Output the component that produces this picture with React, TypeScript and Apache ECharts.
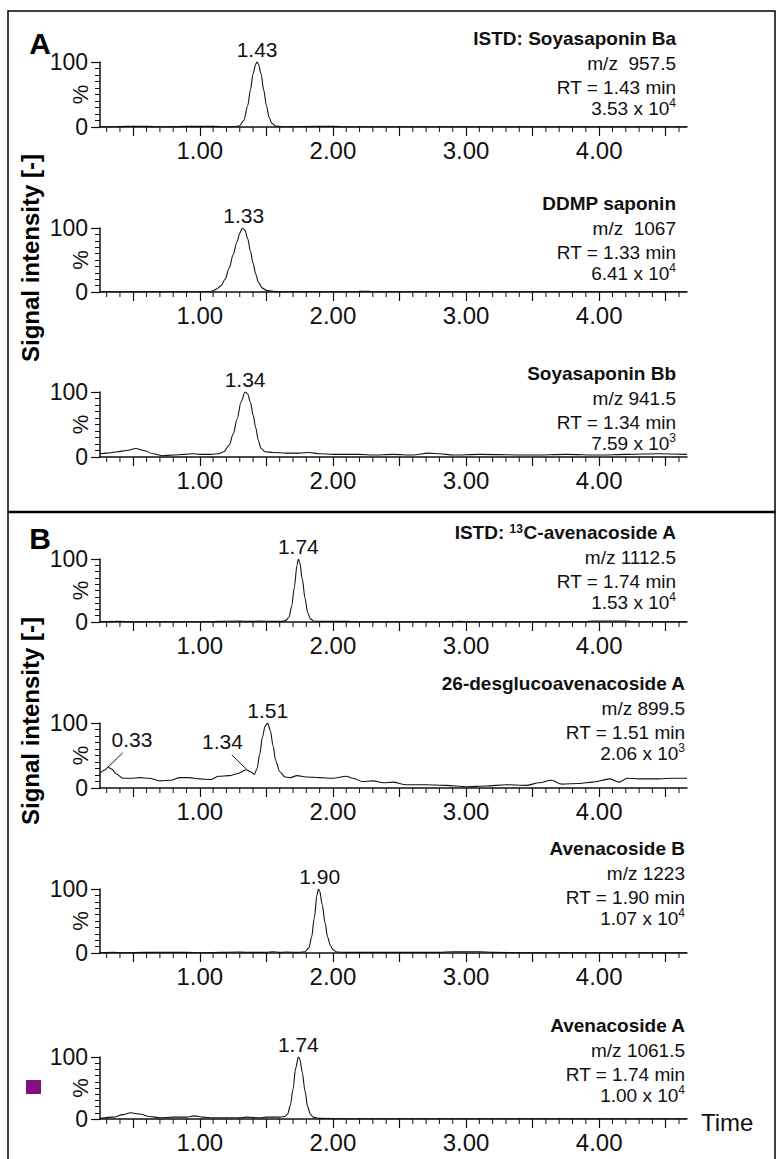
import React, { useEffect, useRef } from "react";
import * as echarts from "echarts";

const FONT = '"Liberation Sans", Arial, Helvetica, sans-serif';

// ---------- data ----------
const xMin = 0.25;
const xMax = 4.66;
const xLabelValues = [1, 2, 3, 4];
const majorTickValues = [0.5, 1, 1.5, 2, 2.5, 3, 3.5, 4, 4.5];
const minorTickValues: number[] = [];
for (let k = 3; k <= 46; k++) if (k % 5 !== 0) minorTickValues.push(k / 10);

// Soyasaponin Ba (ISTD)
const traceA1 = [
  [0.25, 0.3], [0.35, 0.3], [0.45, 1], [0.6, 1], [0.7, 0.3], [0.9, 1], [1.1, 1], [1.2, 0.3],
  [1.26, 0.5], [1.3, 2], [1.33, 10], [1.36, 33], [1.38, 57], [1.4, 82], [1.42, 97], [1.43, 100],
  [1.44, 97], [1.46, 82], [1.48, 57], [1.5, 33], [1.52, 15], [1.54, 6], [1.57, 1.5], [1.62, 0.5],
  [1.9, 1], [2.0, 1], [2.1, 0.3], [2.5, 0.3], [3.0, 0.3], [3.5, 0.3], [4.0, 0.3], [4.66, 0.3],
];
// DDMP saponin
const traceA2 = [
  [0.25, 0.3], [1.0, 0.3], [1.07, 0.6], [1.1, 2], [1.13, 5], [1.16, 10], [1.19, 20], [1.22, 37],
  [1.25, 58], [1.28, 79], [1.3, 92], [1.32, 100], [1.34, 96], [1.36, 83], [1.38, 64], [1.4, 45],
  [1.42, 28], [1.44, 15], [1.47, 6], [1.5, 2.5], [1.55, 1], [1.6, 0.3], [2.18, 0.3], [2.2, 1],
  [2.27, 1], [2.3, 0.3], [4.66, 0.3],
];
// Soyasaponin Bb
const traceA3 = [
  [0.25, 5], [0.3, 6], [0.38, 8], [0.45, 10], [0.52, 13], [0.58, 10], [0.65, 5], [0.72, 2],
  [0.8, 3], [0.88, 4], [0.95, 5], [1.0, 4], [1.08, 4], [1.14, 5], [1.18, 8], [1.22, 18],
  [1.25, 35], [1.28, 58], [1.31, 85], [1.34, 100], [1.36, 97], [1.38, 84], [1.4, 65], [1.42, 45],
  [1.44, 25], [1.46, 13], [1.49, 8], [1.55, 7], [1.65, 6], [1.75, 6], [1.82, 7], [1.9, 5],
  [2.0, 4], [2.2, 4], [2.3, 3], [2.45, 4], [2.6, 3], [2.72, 6], [2.8, 5], [2.9, 3], [3.1, 4],
  [3.5, 3], [3.75, 4], [4.0, 3], [4.2, 4], [4.45, 5], [4.66, 4],
];
// 13C-avenacoside A (ISTD)
const traceB1 = [
  [0.25, 0.5], [0.4, 1], [0.5, 0.5], [1.0, 0.5], [1.3, 1.5], [1.38, 1], [1.45, 1.5], [1.55, 1],
  [1.62, 1], [1.65, 3], [1.67, 8], [1.69, 25], [1.71, 55], [1.73, 90], [1.74, 100], [1.75, 95],
  [1.77, 68], [1.79, 38], [1.81, 15], [1.83, 5], [1.86, 1], [1.9, 1], [2.1, 1], [2.2, 0.5],
  [2.9, 0.5], [2.95, 1], [3.0, 0.5], [3.9, 0.5], [3.95, 1.5], [4.2, 1.5], [4.25, 0.5], [4.66, 0.5],
];
// 26-desglucoavenacoside A
const traceB2 = [
  [0.25, 23], [0.29, 28], [0.31, 32], [0.34, 29], [0.37, 22], [0.42, 15], [0.48, 15], [0.55, 16],
  [0.62, 15], [0.7, 11], [0.78, 12], [0.85, 16], [0.92, 16], [1.0, 14], [1.08, 13], [1.14, 18],
  [1.22, 19], [1.28, 22], [1.35, 28], [1.38, 25], [1.41, 21], [1.43, 30], [1.45, 52], [1.47, 78],
  [1.49, 95], [1.51, 100], [1.53, 88], [1.55, 65], [1.57, 42], [1.6, 25], [1.64, 17], [1.68, 16],
  [1.73, 19], [1.8, 17], [1.9, 16], [2.0, 15], [2.1, 18], [2.15, 15], [2.22, 10], [2.3, 11],
  [2.38, 8], [2.45, 9], [2.55, 5], [2.7, 5], [2.85, 4], [3.0, 2], [3.15, 3], [3.3, 5], [3.45, 4],
  [3.55, 8], [3.64, 12], [3.72, 6], [3.85, 7], [3.95, 9], [4.08, 14], [4.15, 9], [4.21, 15],
  [4.3, 14], [4.45, 14], [4.55, 15], [4.66, 15],
];
// Avenacoside B
const traceB3 = [
  [0.25, 0.5], [0.35, 1], [0.42, 0.5], [0.6, 1], [0.9, 1], [1.0, 0.5], [1.3, 1.5], [1.4, 1],
  [1.5, 1], [1.55, 2], [1.6, 1], [1.65, 1.5], [1.75, 1], [1.79, 2], [1.82, 8], [1.84, 25],
  [1.86, 55], [1.88, 90], [1.89, 100], [1.9, 97], [1.92, 75], [1.94, 48], [1.96, 25], [1.98, 12],
  [2.0, 5], [2.03, 1.5], [2.1, 1], [2.5, 1], [2.8, 1], [2.9, 2], [3.1, 2], [3.2, 1], [3.5, 0.5],
  [4.66, 0.5],
];
// Avenacoside A
const traceB4 = [
  [0.25, 1], [0.35, 3], [0.42, 7], [0.48, 10], [0.55, 8], [0.62, 4], [0.7, 2], [0.8, 3], [0.9, 3],
  [0.96, 5], [1.02, 3], [1.1, 2], [1.3, 2], [1.35, 3], [1.45, 2], [1.5, 3], [1.6, 3], [1.64, 4],
  [1.66, 8], [1.68, 22], [1.7, 48], [1.72, 82], [1.74, 100], [1.75, 97], [1.77, 75], [1.79, 45],
  [1.81, 20], [1.83, 8], [1.85, 3], [1.9, 1], [2.1, 0.5], [4.66, 0.5],
];

const traces = [traceA1, traceA2, traceA3, traceB1, traceB2, traceB3, traceB4];
const peakTimes = [1.43, 1.33, 1.34, 1.74, 1.51, 1.9, 1.74];
const titles = [
  "ISTD: Soyasaponin Ba",
  "DDMP saponin",
  "Soyasaponin Bb",
  "ISTD: {sb|13}C-avenacoside A",
  "26-desglucoavenacoside A",
  "Avenacoside B",
  "Avenacoside A",
];
const mzLabels = ["m/z  957.5", "m/z  1067", "m/z 941.5", "m/z 1112.5", "m/z 899.5", "m/z 1223", "m/z 1061.5"];
const rtLabels = ["RT = 1.43 min", "RT = 1.33 min", "RT = 1.34 min", "RT = 1.74 min", "RT = 1.51 min", "RT = 1.90 min", "RT = 1.74 min"];
const intensityMantissa = ["3.53", "6.41", "7.59", "1.53", "2.06", "1.07", "1.00"];
const intensityExponent = ["4", "4", "3", "4", "3", "4", "4"];
// extra annotated minor peaks in 26-desglucoavenacoside A trace
const minorPeakLabels = ["0.33", "1.34"];
const minorPeakLabelPos = [[0.49, 74], [1.17, 71]];
const minorPeakLeader = [
  [[0.31, 32], [0.42, 54]],
  [[1.35, 29], [1.24, 51]],
];

// ---------- layout ----------
const gridLeft = 100;
const gridWidth = 587;
const gridTops = [62, 228, 392, 559, 723, 889, 1057];
const gridBottoms = [127, 292, 457, 622, 788, 953, 1119];
const textRight = [676, 676, 676, 676, 685, 685, 685];
const textTop = [38, 203, 373, 532, 683, 848, 1025];
const lineOffsets = [0, 25, 49, 70];

const BLACK = "#111";

function buildOption() {
  const n = traces.length;
  const grid: any[] = [];
  const xAxis: any[] = [];
  const yAxis: any[] = [];
  const series: any[] = [];
  const graphic: any[] = [];

  for (let i = 0; i < n; i++) {
    grid.push({
      left: gridLeft,
      width: gridWidth,
      top: gridTops[i],
      height: gridBottoms[i] - gridTops[i],
      containLabel: false,
      outerBoundsMode: "none",
    });
    xAxis.push({
      type: "value",
      gridIndex: i,
      min: xMin,
      max: xMax,
      axisLine: { show: true, onZero: false, lineStyle: { color: BLACK, width: 1.5 } },
      axisTick: { show: true, customValues: majorTickValues, length: 9, lineStyle: { color: BLACK, width: 1.2 } },
      axisLabel: {
        show: true,
        customValues: xLabelValues,
        formatter: (v: number) => v.toFixed(2),
        fontSize: 24,
        fontFamily: FONT,
        color: BLACK,
        margin: 11,
      },
      splitLine: { show: false },
    });
    yAxis.push({
      type: "value",
      gridIndex: i,
      min: 0,
      max: 100,
      interval: 100,
      axisLine: { show: true, lineStyle: { color: BLACK, width: 1.5 } },
      axisTick: { show: true, length: 9, lineStyle: { color: BLACK, width: 1.2 } },
      minorTick: { show: true, splitNumber: 10, length: 5, lineStyle: { color: BLACK, width: 1 } },
      axisLabel: { fontSize: 23, fontFamily: FONT, color: BLACK, margin: 12 },
      splitLine: { show: false },
    });

    const markPointData: any[] = [
      {
        coord: [peakTimes[i], 100],
        label: {
          show: true,
          position: "top",
          distance: 2,
          formatter: peakTimes[i].toFixed(2),
          fontSize: 21,
          fontFamily: FONT,
          color: BLACK,
        },
      },
    ];
    let markLine: any = undefined;
    if (i === 4) {
      minorPeakLabels.forEach((lab, k) => {
        markPointData.push({
          coord: minorPeakLabelPos[k],
          label: { show: true, position: "inside", formatter: lab, fontSize: 21, fontFamily: FONT, color: BLACK },
        });
      });
      markLine = {
        silent: true,
        symbol: ["none", "none"],
        lineStyle: { color: BLACK, width: 1, type: "solid" },
        label: { show: false },
        data: minorPeakLeader.map((seg) => [{ coord: seg[0] }, { coord: seg[1] }]),
      };
    }

    series.push({
      type: "line",
      xAxisIndex: i,
      yAxisIndex: i,
      data: traces[i],
      showSymbol: false,
      symbol: "none",
      smooth: 0.3,
      smoothMonotone: "x",
      lineStyle: { color: BLACK, width: 1.1 },
      silent: true,
      markPoint: { symbol: "circle", symbolSize: 0, silent: true, data: markPointData },
      markLine,
    });

    // minor x ticks, placed through the axis scale
    series.push({
      type: "custom",
      xAxisIndex: i,
      yAxisIndex: i,
      silent: true,
      clip: false,
      data: minorTickValues.map((t) => [t, 0]),
      renderItem: (params: any, api: any) => {
        const p = api.coord([api.value(0), api.value(1)]);
        return {
          type: "line",
          shape: { x1: p[0], y1: p[1], x2: p[0], y2: p[1] + 5 },
          style: { stroke: BLACK, lineWidth: 1 },
        };
      },
    });

    // y-axis "%" name
    graphic.push({
      type: "text",
      x: 80,
      y: (gridTops[i] + gridBottoms[i]) / 2,
      rotation: Math.PI / 2,
      style: { text: "%", fontSize: 22, fontFamily: FONT, fill: BLACK, align: "center", verticalAlign: "middle" },
      silent: true,
    });

    // annotation texts
    const base = { fontSize: 19, fontFamily: FONT, fill: BLACK, align: "right", verticalAlign: "middle" };
    graphic.push({
      type: "text",
      x: textRight[i],
      y: textTop[i] + lineOffsets[0],
      style: {
        ...base,
        text: titles[i],
        fontWeight: "bold",
        fontSize: 19,
        rich: { sb: { fontSize: 12, fontWeight: "bold", fontFamily: FONT, fill: BLACK, verticalAlign: "top" } },
      },
    });
    graphic.push({ type: "text", x: textRight[i], y: textTop[i] + lineOffsets[1], style: { ...base, text: mzLabels[i] } });
    graphic.push({ type: "text", x: textRight[i], y: textTop[i] + lineOffsets[2], style: { ...base, text: rtLabels[i] } });
    graphic.push({
      type: "text",
      x: textRight[i],
      y: textTop[i] + lineOffsets[3],
      style: {
        ...base,
        text: `${intensityMantissa[i]} x 10{s|${intensityExponent[i]}}`,
        lineHeight: 23,
        rich: { s: { fontSize: 12, fontFamily: FONT, fill: BLACK, verticalAlign: "top" } },
      },
    });
  }

  // frame and panel letters
  graphic.push({
    type: "rect",
    shape: { x: 8, y: 11, width: 767, height: 1160 },
    style: { fill: "none", stroke: "#000", lineWidth: 1.5 },
    silent: true,
  });
  graphic.push({
    type: "line",
    shape: { x1: 8, y1: 512, x2: 776, y2: 512 },
    style: { stroke: "#000", lineWidth: 2.5 },
    silent: true,
  });
  graphic.push({
    type: "text",
    x: 40,
    y: 43,
    style: { text: "A", fontSize: 30, fontWeight: "bold", fontFamily: FONT, fill: "#000", align: "center", verticalAlign: "middle" },
  });
  graphic.push({
    type: "text",
    x: 40,
    y: 538,
    style: { text: "B", fontSize: 30, fontWeight: "bold", fontFamily: FONT, fill: "#000", align: "center", verticalAlign: "middle" },
  });
  [258, 721].forEach((cy) => {
    graphic.push({
      type: "text",
      x: 30,
      y: cy,
      rotation: Math.PI / 2,
      style: {
        text: "Signal intensity [-]",
        fontSize: 24,
        fontWeight: "bold",
        fontFamily: FONT,
        fill: "#000",
        align: "center",
        verticalAlign: "middle",
      },
    });
  });
  graphic.push({
    type: "rect",
    shape: { x: 26, y: 1080, width: 15, height: 14 },
    style: { fill: "#80107f" },
    silent: true,
  });
  graphic.push({
    type: "text",
    x: 701,
    y: 1122,
    style: { text: "Time", fontSize: 24, fontFamily: FONT, fill: BLACK, align: "left", verticalAlign: "middle" },
  });

  return {
    animation: false,
    backgroundColor: "#fff",
    grid,
    xAxis,
    yAxis,
    series,
    graphic,
  };
}

export default function App() {
  const ref = useRef<HTMLDivElement>(null);
  useEffect(() => {
    if (!ref.current) return;
    const chart = echarts.init(ref.current, null, { renderer: "svg" });
    chart.setOption(buildOption() as any);
    return () => chart.dispose();
  }, []);
  return (
    <div
      ref={ref}
      style={{ position: "absolute", left: 0, top: 0, width: 776, height: 1159, background: "#fff" }}
    />
  );
}
